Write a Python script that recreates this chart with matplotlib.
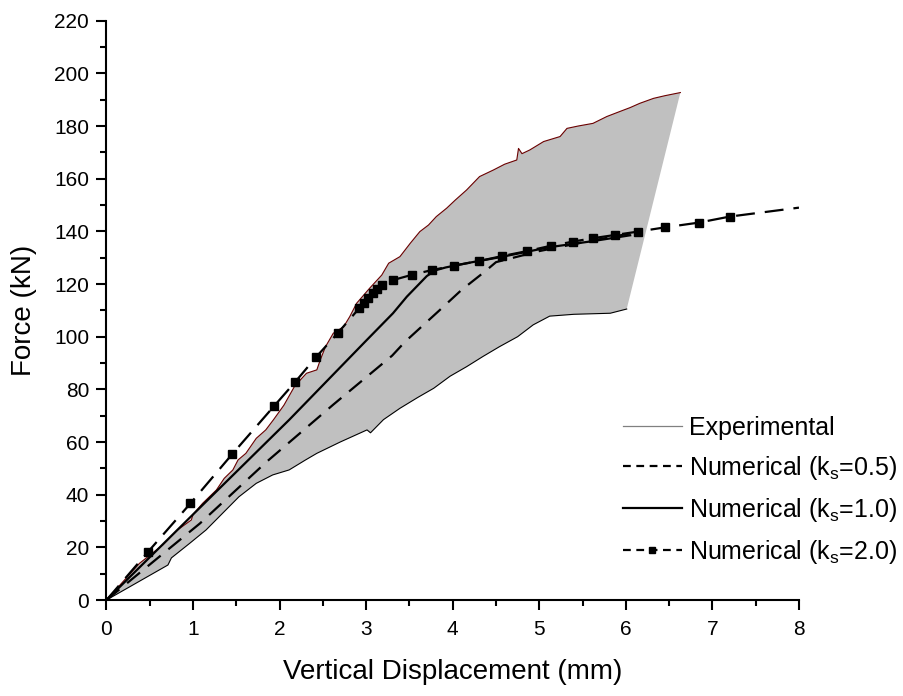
import matplotlib
matplotlib.use("Agg")
import matplotlib.pyplot as plt
from matplotlib.ticker import MultipleLocator
from matplotlib.lines import Line2D

plt.rcParams['font.family'] = ['Liberation Sans', 'DejaVu Sans']
plt.rcParams['mathtext.fontset'] = 'custom'
plt.rcParams['mathtext.rm'] = 'Liberation Sans'
plt.rcParams['mathtext.it'] = 'Liberation Sans:italic'

# ---- data ----
exp_upper_x = [0, 0.38, 0.65, 0.82, 0.98, 1.0, 1.11, 1.27, 1.36, 1.46, 1.52, 1.61, 1.73, 1.84, 1.93,
               2.05, 2.17, 2.24, 2.31, 2.43, 2.47, 2.53, 2.62, 2.74, 2.81, 2.89, 3.04, 3.18, 3.26,
               3.39, 3.51, 3.62, 3.72, 3.81, 3.93, 4.03, 4.16, 4.31, 4.47, 4.60, 4.74, 4.76, 4.80,
               4.89, 5.05, 5.24, 5.32, 5.45, 5.62, 5.78, 5.93, 6.05, 6.16, 6.32, 6.45, 6.63]
exp_upper_y = [0, 13.9, 20.9, 26.6, 30.4, 32.5, 36.7, 41.8, 46.2, 49.4, 53.2, 55.7, 61.4, 64.6, 68.5,
               74.0, 81.0, 83.6, 86.1, 87.4, 91.2, 96.2, 101.3, 103.8, 107.6, 112.7, 118.4, 123.4, 127.9,
               130.4, 135.5, 139.9, 142.4, 145.6, 148.8, 151.9, 155.7, 160.8, 163.3, 165.5, 167.1, 171.5, 169.5,
               170.9, 174.1, 176.0, 179.1, 180.0, 181.0, 183.6, 185.5, 187.0, 188.6, 190.5, 191.5, 192.7]
exp_lower_x = [0, 0.71, 0.75, 0.96, 1.15, 1.34, 1.53, 1.73, 1.92, 2.11, 2.30, 2.43, 2.70, 3.01, 3.05,
               3.20, 3.39, 3.60, 3.78, 3.97, 4.16, 4.35, 4.54, 4.75, 4.93, 5.12, 5.40, 5.82, 6.01]
exp_lower_y = [0, 13.3, 16.0, 21.5, 26.6, 32.9, 39.2, 44.3, 47.5, 49.4, 53.2, 55.7, 60.0, 64.6, 63.5,
               68.5, 72.8, 77.0, 80.4, 85.0, 88.6, 92.5, 96.2, 100.0, 104.5, 107.8, 108.5, 108.9, 110.5]

k05_x = [0, 1.08, 1.85, 2.62, 3.30, 3.45, 3.83, 4.10, 4.37, 4.50, 5.0, 5.5, 6.05]
k05_y = [0, 29.1, 52.5, 74.2, 92.8, 98.1, 109.5, 117.7, 124.7, 128.3, 132.5, 135.8, 139.2]

k10_x = [0, 1.0, 2.11, 3.0, 3.31, 3.47, 3.70, 3.80, 3.92, 4.16, 4.55, 5.12, 5.60, 6.05]
k10_y = [0, 32.5, 68.4, 98.5, 108.9, 115.2, 123.0, 125.2, 126.3, 127.9, 130.2, 134.0, 136.2, 138.5]

k20_x = [0, 0.48, 0.97, 1.45, 1.94, 2.18, 2.42, 2.67, 2.92, 2.97, 3.02, 3.08, 3.13, 3.18, 3.31,
         3.53, 3.76, 4.02, 4.30, 4.57, 4.86, 5.13, 5.39, 5.62, 5.87, 6.14, 6.45, 6.84, 7.20, 8.0]
k20_y = [0, 18.3, 36.7, 55.3, 73.8, 82.8, 92.2, 101.3, 110.8, 112.7, 114.6, 116.5, 118.0, 119.6, 121.5,
         123.5, 125.3, 127.0, 128.7, 130.6, 132.5, 134.5, 136.1, 137.4, 138.6, 139.9, 141.5, 143.3, 145.6, 149.0]

labels = ['Experimental',
          r'Numerical (k$_{\mathrm{s}}$=0.5)',
          r'Numerical (k$_{\mathrm{s}}$=1.0)',
          r'Numerical (k$_{\mathrm{s}}$=2.0)']

fig = plt.figure(figsize=(9.04, 6.96), dpi=100)
ax = fig.add_axes([0.1178, 0.1379, 0.7660, 0.8324])

# experimental band
poly_x = exp_upper_x + exp_lower_x[::-1]
poly_y = exp_upper_y + exp_lower_y[::-1]
ax.fill(poly_x, poly_y, color='#c0c0c0', lw=0, zorder=1)
ax.plot(exp_upper_x, exp_upper_y, color='#6b0000', lw=0.8, zorder=2)
ax.plot(exp_lower_x, exp_lower_y, color='black', lw=0.8, zorder=2)

ax.plot(k05_x, k05_y, color='black', lw=1.6, dashes=(7.5, 4.5), zorder=3)
ax.plot(k10_x, k10_y, color='black', lw=1.6, zorder=3)
ax.plot(k20_x, k20_y, color='black', lw=1.6, dashes=(8.5, 4.5), marker='s', markersize=5.5,
        markevery=list(range(1, len(k20_x) - 1)), zorder=4)

handles = [
    Line2D([], [], color='#808080', lw=0.9),
    Line2D([], [], color='black', lw=1.6, dashes=(3.5, 2.5)),
    Line2D([], [], color='black', lw=1.6),
    Line2D([], [], color='black', lw=1.6, dashes=(3.5, 2.5), marker='s', markersize=5),
]
fig.legend(handles, labels, loc='upper left', bbox_to_anchor=(0.689, 0.4023),
           frameon=False, fontsize=18, handlelength=2.35, handletextpad=0.3,
           labelspacing=0.56, borderpad=0, borderaxespad=0)

ax.set_xlim(0, 8)
ax.set_ylim(0, 220)
ax.xaxis.set_major_locator(MultipleLocator(1))
ax.xaxis.set_minor_locator(MultipleLocator(0.5))
ax.yaxis.set_major_locator(MultipleLocator(20))
ax.yaxis.set_minor_locator(MultipleLocator(10))
for s in ['top', 'right']:
    ax.spines[s].set_visible(False)
for s in ['left', 'bottom']:
    ax.spines[s].set_linewidth(1.5)
ax.tick_params(which='major', direction='out', length=7.5, width=1.5, labelsize=15)
ax.tick_params(axis='x', which='major', pad=7)
ax.tick_params(axis='y', which='major', pad=5)
ax.tick_params(which='minor', direction='out', length=4.5, width=1.5)
ax.set_xlabel('Vertical Displacement (mm)', fontsize=20, labelpad=14)
ax.set_ylabel('Force (kN)', fontsize=20, labelpad=12)

fig.savefig('out.png', dpi=100)
